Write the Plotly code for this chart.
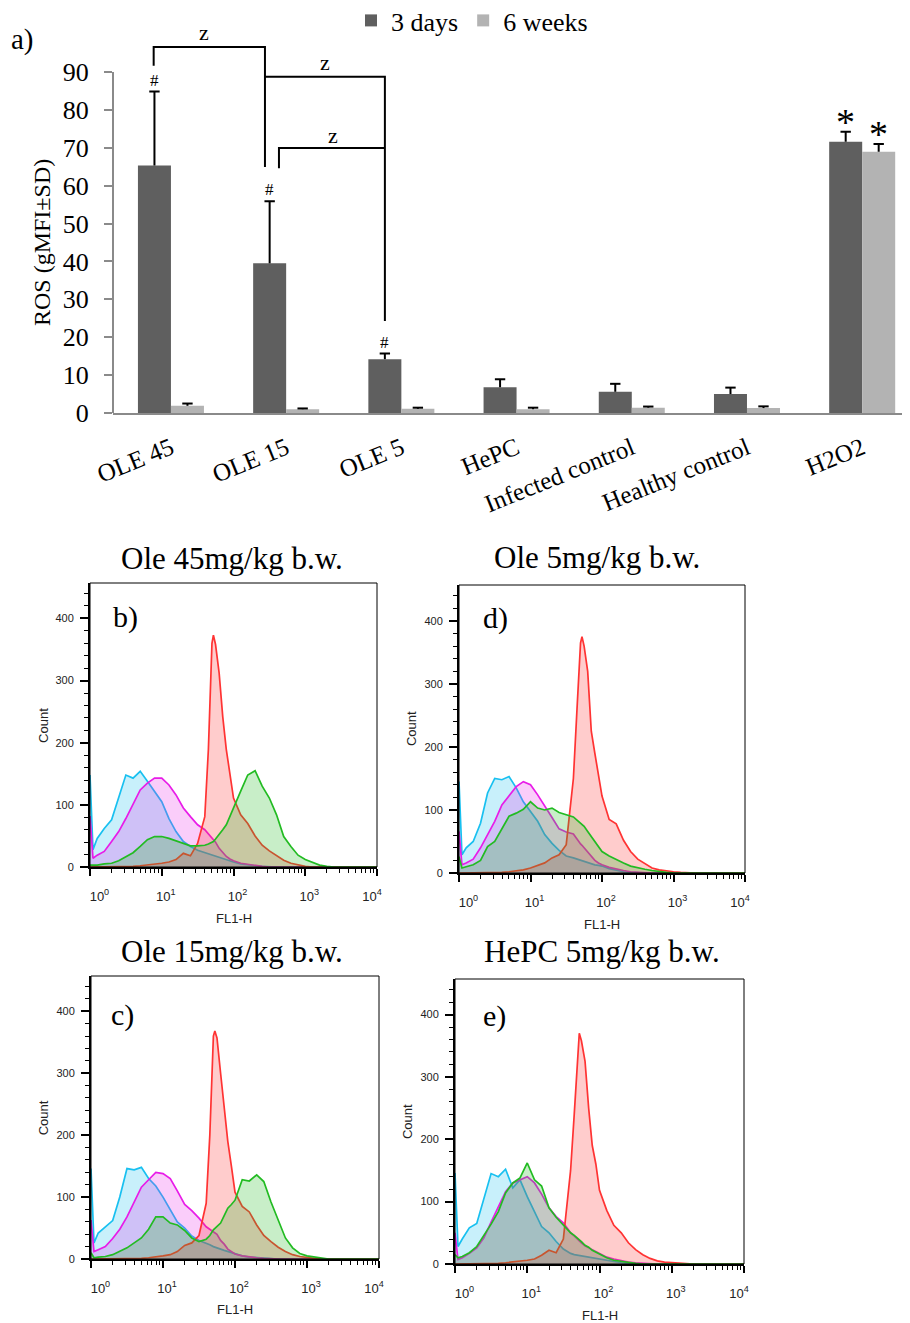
import plotly.graph_objects as go

# ---------------- Panel a data ----------------
groups = ["OLE 45", "OLE 15", "OLE 5", "HePC", "Infected control", "Healthy control", "H2O2"]
series = ["3 days", "6 weeks"]
ros_3days = [65.3, 39.5, 14.2, 6.8, 5.6, 5.0, 71.6]
sd_3days = [19.5, 16.4, 1.5, 2.1, 2.1, 1.7, 2.6]
ros_6weeks = [1.9, 1.0, 1.1, 1.0, 1.4, 1.3, 68.9]
sd_6weeks = [0.6, 0.2, 0.3, 0.4, 0.3, 0.45, 2.1]
ros_ticks = [0, 10, 20, 30, 40, 50, 60, 70, 80, 90]
hash_groups = [0, 1, 2]
star_groups = [6]

# ---------------- Flow cytometry histogram data ----------------
FL1_H = [1.0, 1.1, 1.26, 1.58, 2.0, 2.51, 3.16, 3.98, 5.01, 6.31,
         7.94, 10.0, 12.6, 15.8, 20.0, 25.1, 31.6, 39.8, 44.7, 50.1,
         52.5, 56.2, 63.1, 70.8, 79.4, 89.1, 100.0, 126, 158, 200,
         251, 316, 398, 501, 631, 794, 1000, 1259, 1585, 1995,
         2512, 10000]
count_ticks = [0, 100, 200, 300, 400]
decades = [1, 10, 100, 1000, 10000]
decade_labels = ["&nbsp;&nbsp;&nbsp;10<sup>0</sup>", "10<sup>1</sup>", "10<sup>2</sup>", "10<sup>3</sup>",
                 "10<sup>4</sup>&nbsp;&nbsp;&nbsp;&nbsp;&nbsp;"]

b_cyan = [148, 28, 46, 62, 76, 111, 148, 143, 154, 138, 121, 105, 78, 57, 41, 33, 27, 23, 21, 19,
          18, 17, 15, 13, 11, 9, 8, 5, 3, 2, 1, 0, 0, 0, 0, 0, 0, 0, 0, 0, 0, 0]
b_magenta = [82, 14, 19, 25, 41, 57, 78, 100, 124, 135, 143, 143, 132, 116, 95, 81, 68, 60, 53, 46,
             44, 40, 30, 24, 17, 13, 10, 6, 4, 2, 1, 0, 0, 0, 0, 0, 0, 0, 0, 0, 0, 0]
b_green = [3, 3, 3, 5, 6, 10, 16, 23, 33, 44, 49, 49, 46, 42, 38, 34, 34, 35, 37, 39,
           41, 45, 52, 60, 68, 82, 97, 122, 148, 155, 130, 111, 84, 49, 33, 19, 12, 7, 3, 1, 0, 0]
b_red = [0, 0, 0, 0, 0, 0, 0, 1, 2, 3, 4, 6, 8, 12, 22, 18, 38, 81, 190, 360,
         373, 358, 312, 242, 189, 146, 111, 84, 70, 50, 35, 26, 18, 11, 6, 3, 1, 0, 0, 0, 0, 0]

d_cyan = [145, 29, 40, 50, 79, 127, 150, 148, 153, 135, 113, 98, 82, 61, 47, 36, 27, 24, 22, 20,
          20, 19, 17, 15, 13, 12, 11, 7, 4, 2, 1, 0, 0, 0, 0, 0, 0, 0, 0, 0, 0, 0]
d_magenta = [66, 13, 16, 22, 40, 62, 82, 108, 122, 137, 145, 140, 124, 107, 88, 70, 65, 62, 53, 46,
             44, 40, 34, 27, 20, 16, 13, 9, 6, 4, 2, 1, 0, 0, 0, 0, 0, 0, 0, 0, 0, 0]
d_green = [26, 8, 10, 13, 20, 42, 50, 69, 90, 95, 101, 113, 103, 100, 103, 96, 92, 89, 84, 79,
           78, 74, 66, 58, 50, 42, 34, 27, 21, 16, 11, 8, 6, 4, 2, 1, 0, 0, 0, 0, 0, 0]
d_red = [0, 0, 0, 0, 0, 0, 0, 1, 2, 3, 5, 8, 12, 16, 24, 29, 45, 150, 260, 365,
         375, 360, 320, 225, 190, 155, 122, 85, 78, 52, 34, 22, 15, 8, 5, 3, 2, 1, 0, 0, 0, 0]

c_cyan = [146, 26, 42, 52, 62, 100, 146, 144, 148, 130, 118, 100, 80, 60, 50, 37, 30, 26, 23, 20,
          19, 18, 16, 14, 12, 10, 8, 5, 3, 2, 1, 0, 0, 0, 0, 0, 0, 0, 0, 0, 0, 0]
c_magenta = [63, 12, 15, 20, 33, 48, 68, 92, 116, 128, 140, 138, 130, 110, 88, 78, 66, 52, 48, 44,
             43, 40, 30, 24, 16, 12, 8, 5, 3, 2, 1, 0, 0, 0, 0, 0, 0, 0, 0, 0, 0, 0]
c_green = [10, 2, 3, 4, 7, 12, 18, 26, 34, 48, 68, 68, 58, 55, 46, 34, 28, 32, 38, 47,
           49, 53, 58, 70, 82, 88, 95, 128, 126, 136, 125, 92, 63, 34, 18, 9, 5, 3, 1, 0, 0, 0]
c_red = [0, 0, 0, 0, 0, 0, 0, 1, 1, 2, 3, 5, 7, 12, 22, 26, 38, 90, 200, 360,
         368, 357, 300, 240, 190, 150, 108, 85, 76, 55, 38, 28, 19, 12, 7, 4, 2, 1, 0, 0, 0, 0]

e_cyan = [146, 28, 40, 58, 65, 105, 145, 140, 152, 122, 135, 108, 84, 60, 50, 36, 24, 17, 15, 14,
          13, 12, 11, 10, 9, 8, 7, 5, 4, 2, 1, 0, 0, 0, 0, 0, 0, 0, 0, 0, 0, 0]
e_magenta = [50, 7, 10, 17, 26, 42, 67, 92, 116, 130, 135, 140, 130, 112, 90, 76, 66, 50, 45, 39,
             38, 34, 29, 26, 23, 20, 16, 11, 8, 5, 3, 2, 1, 0, 0, 0, 0, 0, 0, 0, 0, 0]
e_green = [15, 10, 12, 18, 28, 45, 64, 84, 114, 130, 138, 162, 135, 125, 90, 75, 63, 50, 46, 41,
           40, 36, 30, 27, 22, 19, 15, 10, 6, 4, 2, 1, 0, 0, 0, 0, 0, 0, 0, 0, 0, 0]
e_red = [0, 0, 0, 0, 0, 0, 0, 1, 2, 3, 4, 6, 8, 14, 22, 18, 40, 150, 240, 345,
         370, 358, 325, 250, 190, 160, 118, 86, 62, 50, 34, 23, 15, 9, 5, 3, 2, 1, 0, 0, 0, 0]

# ---------------- styling / layout helpers ----------------
PAGE_W, PAGE_H = 910, 1323
BODY = 8                      # default page margin around the plot div
W, H = PAGE_W - BODY, PAGE_H - BODY
SERIF = "Liberation Serif"
SANS = "Liberation Sans"
DARK = "#5f5f5f"
LIGHT = "#b3b3b3"
AXGRAY = "#8a8a8a"
YTOP = 104   # ROS axis extends above 90 to hold brackets


def px_x(p):
    return (p - BODY) / W


def px_y(p):
    return 1 - (p - BODY) / H


fig = go.Figure()

# ---------------- Panel a: bar chart ----------------
BW = 0.2865
idx = list(range(len(groups)))
fig.add_trace(go.Bar(x=idx, y=ros_3days, offset=-BW, width=BW, marker=dict(color=DARK, line=dict(width=0)),
                     name=series[0], xaxis="x", yaxis="y"))
fig.add_trace(go.Bar(x=idx, y=ros_6weeks, offset=0, width=BW, marker=dict(color=LIGHT, line=dict(width=0)),
                     name=series[1], xaxis="x", yaxis="y"))

CAP = 0.045


def err_lines(centers, vals, sds):
    ex, ey = [], []
    for x, v, s in zip(centers, vals, sds):
        ex += [x, x, None, x - CAP, x + CAP, None]
        ey += [v, v + s, None, v + s, v + s, None]
    return go.Scatter(x=ex, y=ey, mode="lines", line=dict(color="black", width=2),
                      showlegend=False, hoverinfo="skip", xaxis="x", yaxis="y")


c3 = [i - BW / 2 for i in idx]
c6 = [i + BW / 2 for i in idx]
fig.add_trace(err_lines(c3, ros_3days, sd_3days))
fig.add_trace(err_lines(c6, ros_6weeks, sd_6weeks))

annotations = []
for g in hash_groups:
    annotations.append(dict(x=c3[g], y=ros_3days[g] + sd_3days[g], xref="x", yref="y", text="#",
                            showarrow=False, xanchor="center", yanchor="bottom",
                            font=dict(family=SERIF, size=17, color="black")))
for g in star_groups:
    for cx, v, s in ((c3[g], ros_3days[g], sd_3days[g]), (c6[g], ros_6weeks[g], sd_6weeks[g])):
        annotations.append(dict(x=cx, y=v + s, xref="x", yref="y", text="*", showarrow=False,
                                xanchor="center", yanchor="bottom", yshift=-13,
                                font=dict(family=SERIF, size=38, color="black")))

# significance brackets (group units, ROS units)
brackets = [
    [(-0.15, 91.6), (-0.15, 96.6), (0.816, 96.6), (0.816, 64.9)],
    [(0.816, 88.7), (1.857, 88.7), (1.857, 24.3)],
    [(0.9375, 64.6), (0.9375, 69.9), (1.857, 69.9)],
]
z_labels = [(0.286, 100.5), (1.337, 92.6), (1.406, 73.1)]
shapes = []
for br in brackets:
    path = "M " + " L ".join(f"{x},{y}" for x, y in br)
    shapes.append(dict(type="path", path=path, xref="x", yref="y", line=dict(color="black", width=2)))
for x, y in z_labels:
    annotations.append(dict(x=x, y=y, xref="x", yref="y", text="z", showarrow=False,
                            xanchor="center", yanchor="middle",
                            font=dict(family=SERIF, size=22, color="black")))

# y axis line from 0 to 90 only
shapes.append(dict(type="line", xref="x domain", yref="y", x0=0, x1=0, y0=0, y1=90,
                   line=dict(color=AXGRAY, width=2)))

annotations.append(dict(x=px_x(42), y=px_y(243), xref="paper", yref="paper", text="ROS (gMFI±SD)",
                        textangle=-90, showarrow=False, xanchor="center", yanchor="middle",
                        font=dict(family=SERIF, size=24, color="black")))
annotations.append(dict(x=px_x(23), y=px_y(40), xref="paper", yref="paper", text="a)",
                        showarrow=False, xanchor="center", yanchor="middle",
                        font=dict(family=SERIF, size=29, color="black")))

layout = dict(
    xaxis=dict(domain=[px_x(113), 1.0], range=[-0.503, 6.415], tickmode="array", tickvals=idx, ticktext=groups,
               tickangle=-22, showline=True, linecolor=AXGRAY, linewidth=2, ticks="", showgrid=False,
               zeroline=False, tickfont=dict(family=SERIF, size=25, color="black"), anchor="y",
               ticklabelstandoff=9, automargin=False),
    yaxis=dict(domain=[px_y(413), px_y(413 - YTOP * 3.79)], range=[0, YTOP], tickmode="array",
               tickvals=ros_ticks, ticks="outside", ticklen=8, tickwidth=2, tickcolor=AXGRAY, showline=False,
               showgrid=False, zeroline=False, tickfont=dict(family=SERIF, size=26, color="black"),
               ticklabelstandoff=10, anchor="x", automargin=False),
)

# ---------------- Histogram panels ----------------
curve_styles = [
    ("#18c0f0", "rgba(24,192,240,0.24)"),
    ("#e81ce8", "rgba(232,28,232,0.22)"),
    ("#ff3333", "rgba(255,51,51,0.25)"),
    ("#22bb22", "rgba(34,187,34,0.25)"),
]
minor_x = [m * d for d in (1, 10, 100, 1000) for m in range(2, 10)]

panels = [
    dict(n=2, letter="b)", title="Ole 45mg/kg b.w.", curves=[b_cyan, b_magenta, b_red, b_green],
         xpx=(90, 377), ypx=(867, 583), tx=0.495, ty=1.088, lx=0.122, ly=0.88),
    dict(n=3, letter="d)", title="Ole 5mg/kg b.w.", curves=[d_cyan, d_magenta, d_red, d_green],
         xpx=(459, 745), ypx=(873, 585), tx=0.483, ty=1.094, lx=0.126, ly=0.885),
    dict(n=4, letter="c)", title="Ole 15mg/kg b.w.", curves=[c_cyan, c_magenta, c_red, c_green],
         xpx=(91, 379), ypx=(1259, 976), tx=0.49, ty=1.085, lx=0.111, ly=0.862),
    dict(n=5, letter="e)", title="HePC 5mg/kg b.w.", curves=[e_cyan, e_magenta, e_red, e_green],
         xpx=(455, 744), ypx=(1264, 979), tx=0.509, ty=1.095, lx=0.135, ly=0.87),
]

for p in panels:
    n = p["n"]
    xa, ya = f"x{n}", f"y{n}"
    for data, (lc, fc) in zip(p["curves"], curve_styles):
        fig.add_trace(go.Scatter(x=FL1_H, y=data, mode="lines", line=dict(color=lc, width=1.7),
                                 fill="tozeroy", fillcolor=fc, xaxis=xa, yaxis=ya,
                                 showlegend=False, hoverinfo="skip"))
    layout[f"xaxis{n}"] = dict(
        domain=[px_x(p["xpx"][0]), px_x(p["xpx"][1])], type="log", range=[0, 4], anchor=ya,
        tickmode="array", tickvals=decades, ticktext=decade_labels, ticks="outside", ticklen=7,
        tickwidth=1.5, tickcolor="black",
        minor=dict(tickmode="array", tickvals=minor_x, ticks="outside", ticklen=4, tickcolor="black", tickwidth=1),
        showline=True, linecolor="black", linewidth=2, showgrid=False, zeroline=False,
        tickfont=dict(family=SANS, size=13, color="#222"), ticklabelshift=4, ticklabelstandoff=9,
        automargin=False)
    layout[f"yaxis{n}"] = dict(
        domain=[px_y(p["ypx"][0]), px_y(p["ypx"][1])], range=[0, 457], anchor=xa,
        tickmode="array", tickvals=count_ticks, ticks="outside", ticklen=8, tickwidth=1.5, tickcolor="black",
        minor=dict(tick0=0, dtick=20, ticks="outside", ticklen=4, tickcolor="black", tickwidth=1),
        showline=True, linecolor="black", linewidth=2, showgrid=False, zeroline=False,
        tickfont=dict(family=SANS, size=11, color="#222"), ticklabelstandoff=4, automargin=False)
    shapes.append(dict(type="rect", xref=f"{xa} domain", yref=f"{ya} domain", x0=0, x1=1, y0=0, y1=1,
                       line=dict(color="black", width=1)))
    annotations.append(dict(x=p["tx"], y=p["ty"], xref=f"{xa} domain", yref=f"{ya} domain", text=p["title"],
                            showarrow=False, xanchor="center", yanchor="middle",
                            font=dict(family=SERIF, size=31, color="black")))
    annotations.append(dict(x=p["lx"], y=p["ly"], xref=f"{xa} domain", yref=f"{ya} domain", text=p["letter"],
                            showarrow=False, xanchor="center", yanchor="middle",
                            font=dict(family=SERIF, size=30, color="black")))
    annotations.append(dict(x=-0.164, y=0.5, xref=f"{xa} domain", yref=f"{ya} domain", text="Count",
                            textangle=-90, showarrow=False, xanchor="center", yanchor="middle",
                            font=dict(family=SANS, size=13, color="#222")))
    annotations.append(dict(x=0.5, y=-0.18, xref=f"{xa} domain", yref=f"{ya} domain", text="FL1-H",
                            showarrow=False, xanchor="center", yanchor="middle",
                            font=dict(family=SANS, size=13, color="#222")))

fig.update_layout(
    **layout,
    width=W, height=H, margin=dict(l=0, r=0, t=0, b=0, autoexpand=False),
    paper_bgcolor="white", plot_bgcolor="white",
    barmode="overlay",
    showlegend=True,
    legend=dict(orientation="h", x=px_x(351), y=px_y(-3), xanchor="left", yanchor="top",
                font=dict(family=SERIF, size=26, color="black"), bgcolor="rgba(0,0,0,0)",
                itemwidth=30, traceorder="normal"),
    shapes=shapes,
    annotations=annotations,
)

fig.write_html("out.html")
